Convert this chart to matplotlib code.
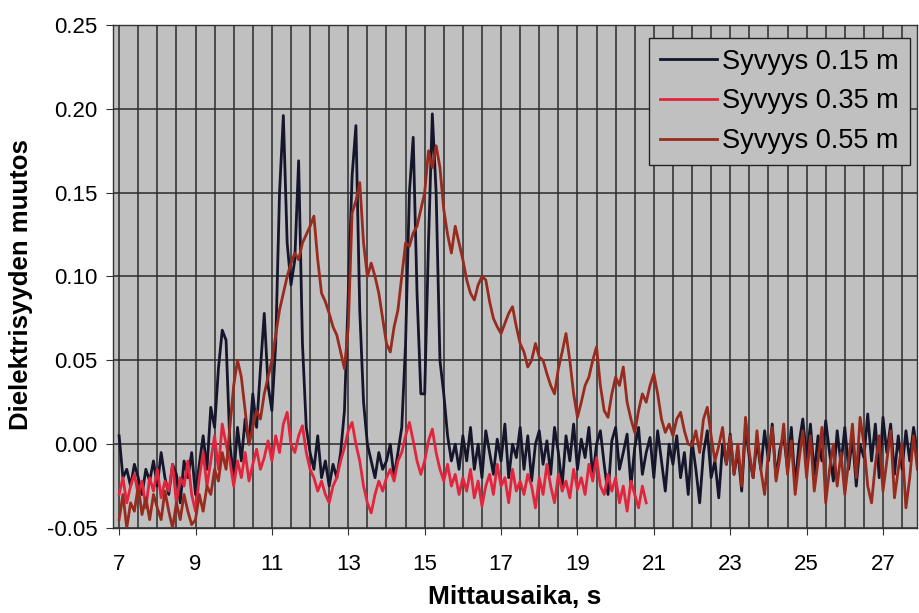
import matplotlib
matplotlib.use("Agg")
import matplotlib.pyplot as plt
import numpy as np
from matplotlib.ticker import MultipleLocator, FormatStrFormatter

plt.rcParams['font.family'] = ['Liberation Sans', 'DejaVu Sans']
plt.rcParams['axes.unicode_minus'] = False

# sampling: 0.1 s steps starting at 7.0 s
t_start = 7.0
t_step = 0.1

labels = ["Syvyys 0.15 m", "Syvyys 0.35 m", "Syvyys 0.55 m"]
colors = ["#15152c", "#e2243c", "#982a1e"]

d015 = [
    0.005, -0.02, -0.015, -0.025, -0.012, -0.02, -0.03, -0.015, -0.022, -0.01,
    -0.025, -0.005, -0.02, -0.03, -0.012, -0.018, -0.035, -0.01, -0.02, -0.005,
    -0.03, -0.012, 0.005, -0.015, 0.022, 0.01, 0.045, 0.068, 0.062, 0.0,
    -0.02, 0.01, -0.01, 0.015, 0.0, 0.03, 0.01, 0.045, 0.078, 0.035,
    0.02, 0.06, 0.15, 0.196, 0.12, 0.095, 0.11, 0.169, 0.06, 0.01,
    -0.005, -0.015, 0.005, -0.02, -0.01, -0.025, -0.012, -0.02, -0.005, 0.02,
    0.09, 0.16, 0.19, 0.08, 0.025, 0.0, -0.01, -0.02, -0.005, -0.015,
    -0.01, 0.0, -0.02, -0.005, 0.01, 0.06, 0.15, 0.183, 0.09, 0.03,
    0.03, 0.12, 0.197, 0.15, 0.05, 0.03, 0.005, -0.01, 0.0, -0.015,
    0.005, -0.01, 0.01, -0.015, 0.0, -0.02, 0.008, -0.005, -0.018, 0.003,
    -0.01, 0.012, -0.02, 0.0, -0.008, 0.01, -0.015, 0.005, -0.022, 0.0,
    0.008, -0.012, 0.002, -0.018, 0.01, -0.005, -0.025, 0.005, -0.01, 0.012,
    -0.015, 0.003, -0.008, 0.01, -0.02, 0.0, 0.008, -0.012, -0.03, 0.002,
    0.01, -0.015, -0.005, 0.006, -0.025, -0.002, 0.01, -0.018, -0.005, 0.004,
    -0.02, 0.008, -0.01, -0.028, 0.0, -0.012, 0.005, -0.02, -0.005, -0.03,
    0.002, -0.015, -0.035, -0.005, 0.008, -0.02, -0.01, -0.032, 0.0, -0.012,
    0.006, -0.018, -0.004, -0.028, 0.01, -0.008, -0.02, 0.002, -0.015, 0.008,
    -0.01, 0.012, -0.02, -0.003, 0.005, -0.015, 0.01, -0.025, 0.0, 0.015,
    -0.008, 0.012, -0.018, 0.005, -0.01, 0.014, -0.005, -0.022, 0.008, -0.012,
    0.01, -0.015, 0.004, -0.025, 0.0, -0.008, 0.018, -0.01, 0.012, -0.02,
    0.016, -0.005, 0.012, -0.018, 0.005, -0.015, 0.008, -0.01, 0.01, -0.005,
]

d035 = [
    -0.03, -0.02, -0.035, -0.025, -0.018, -0.03, -0.022, -0.038, -0.02, -0.028,
    -0.015, -0.032, -0.022, -0.028, -0.012, -0.035, -0.02, -0.025, -0.01, -0.03,
    -0.04, -0.02, -0.005, -0.025, -0.01, 0.005, -0.015, 0.012, 0.0, -0.01,
    -0.025, -0.01, -0.02, -0.005, -0.022, -0.012, -0.003, -0.015, -0.008, 0.002,
    -0.01, 0.005, -0.005, 0.012, 0.019, 0.0, -0.005, 0.005, 0.011, -0.005,
    -0.015, -0.02, -0.028, -0.022, -0.03, -0.035, -0.025, -0.02, -0.01, -0.002,
    0.008, 0.013, 0.0, -0.01, -0.025, -0.035, -0.041, -0.03, -0.022, -0.028,
    -0.02, -0.015, -0.022, -0.01, -0.005, 0.005, 0.013, 0.002, -0.01, -0.018,
    -0.01, 0.002, 0.009, -0.005, -0.015, -0.022, -0.012, -0.025, -0.018, -0.03,
    -0.02, -0.028, -0.015, -0.032, -0.022, -0.037, -0.025, -0.018, -0.03, -0.012,
    -0.025, -0.02, -0.035, -0.015, -0.028, -0.022, -0.03, -0.018, -0.025, -0.038,
    -0.02, -0.03, -0.012, -0.025, -0.035, -0.018, -0.028, -0.022, -0.032, -0.015,
    -0.027, -0.02, -0.03, -0.012, -0.022, -0.008, -0.025, -0.03, -0.018, -0.028,
    -0.02, -0.035, -0.025, -0.04, -0.022, -0.03, -0.038, -0.025, -0.035,
]

d055 = [
    -0.045, -0.03, -0.05, -0.035, -0.04, -0.025, -0.042, -0.032, -0.045, -0.03,
    -0.038, -0.045, -0.028, -0.04, -0.05, -0.035, -0.045, -0.03, -0.04, -0.048,
    -0.045, -0.03, -0.04, -0.025, -0.03, -0.015, -0.022, -0.005, -0.015, 0.01,
    0.035, 0.05, 0.04, 0.02, 0.0, 0.01, 0.02, 0.015, 0.03, 0.04,
    0.05, 0.065, 0.08, 0.09, 0.1, 0.108, 0.114, 0.11, 0.12, 0.125,
    0.13, 0.136, 0.11, 0.09, 0.085, 0.078, 0.07, 0.065, 0.055, 0.045,
    0.07, 0.138, 0.145, 0.156, 0.12, 0.1, 0.108, 0.1, 0.09, 0.075,
    0.06, 0.055, 0.07, 0.08, 0.1, 0.12, 0.118, 0.126, 0.13, 0.14,
    0.15, 0.175, 0.165, 0.178, 0.165, 0.14, 0.125, 0.114, 0.13, 0.12,
    0.11, 0.098, 0.09, 0.086, 0.095, 0.1, 0.098, 0.085, 0.075, 0.07,
    0.066, 0.072, 0.078, 0.082, 0.07, 0.06, 0.055, 0.046, 0.05, 0.06,
    0.052, 0.05, 0.042, 0.035, 0.03, 0.045, 0.055, 0.066, 0.05, 0.03,
    0.016, 0.025, 0.035, 0.04, 0.05, 0.058, 0.035, 0.02, 0.016, 0.03,
    0.04, 0.035, 0.046, 0.025, 0.015, 0.007, 0.02, 0.03, 0.025, 0.035,
    0.042, 0.03, 0.015, 0.007, 0.012, 0.005, 0.015, 0.019, 0.008, 0.0,
    -0.001, 0.008, -0.005, 0.015, 0.022, 0.005, -0.01, -0.001, 0.01, -0.012,
    0.005, -0.018, 0.0, -0.025, 0.016, -0.005, -0.02, 0.008, -0.015, -0.03,
    -0.005, 0.01, -0.022, -0.008, 0.012, -0.018, 0.002, -0.03, -0.01, 0.008,
    -0.02, 0.005, -0.028, -0.01, 0.01, -0.035, -0.015, 0.0, -0.025, -0.005,
    -0.03, -0.01, 0.012, -0.02, 0.016, 0.0, -0.025, -0.035, -0.012, 0.005,
    -0.028, -0.01, 0.008, -0.032, -0.015, 0.0, -0.038, -0.02, 0.005, -0.015,
]

series = [d015, d035, d055]

fig = plt.figure(figsize=(9.2, 6.13), dpi=100)
ax = fig.add_axes([113 / 920, 1 - 528 / 613, (917 - 113) / 920, (528 - 25) / 613])
ax.set_facecolor("#c0c0c0")

for vals, lab, col in zip(series, labels, colors):
    t = t_start + t_step * np.arange(len(vals))
    ax.plot(t, vals, color=col, lw=2.0, label=lab)

ax.set_xlim(6.84, 27.89)
ax.set_ylim(-0.05, 0.25)
ax.set_xticks(np.arange(7, 28, 2))
ax.xaxis.set_minor_locator(MultipleLocator(0.5))
ax.yaxis.set_major_locator(MultipleLocator(0.05))
ax.yaxis.set_major_formatter(FormatStrFormatter('%.2f'))
ax.grid(True, which='both', axis='x', color='#2a2a2a', lw=1.1)
ax.grid(True, which='major', axis='y', color='#2a2a2a', lw=1.1)
ax.set_axisbelow(True)
ax.tick_params(axis='x', which='major', length=5, pad=14, labelsize=16, color='#333333')
ax.tick_params(axis='x', which='minor', length=0)
ax.tick_params(axis='y', length=5, pad=6, labelsize=16, color='#333333')
for s in ax.spines.values():
    s.set_color('#333333')
    s.set_linewidth(1.0)

ax.set_xlabel("Mittausaika, s", fontsize=19, fontweight='bold', labelpad=7)
ax.set_ylabel("Dielektrisyyden muutos", fontsize=18.5, fontweight='bold')
ax.yaxis.set_label_coords(-0.099, 0.483)

leg = ax.legend(loc='upper right', bbox_to_anchor=(0.991, 0.974), borderaxespad=0,
                fontsize=19.5, handlelength=2.1, handletextpad=0.2, labelspacing=0.5,
                borderpad=0.4, fancybox=False, framealpha=1, facecolor='#c0c0c0',
                edgecolor='#222222')
leg.get_frame().set_linewidth(1.0)

fig.savefig("out.png", dpi=100)
